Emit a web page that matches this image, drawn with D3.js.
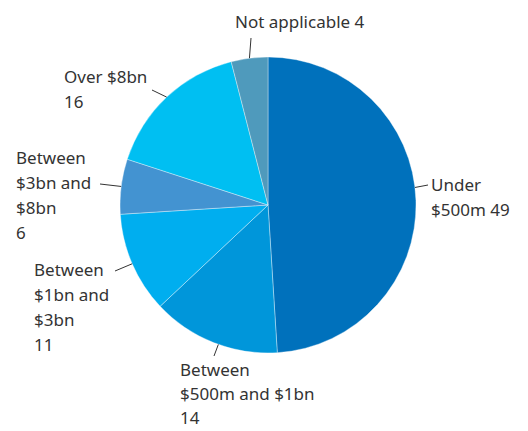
<!DOCTYPE html>
<html>
<head>
<meta charset="utf-8">
<script src="https://cdn.jsdelivr.net/npm/d3@7"></script>
<style>
  body { margin: 0; background: #fff; }
  svg text { font-family: "Noto Sans", sans-serif; font-size: 17px; fill: #333; }
</style>
</head>
<body>
<svg id="chart" width="528" height="431"></svg>
<script>
// slice data, clockwise from 12 o'clock
var categories = ["Under $500m", "Between $500m and $1bn", "Between $1bn and $3bn", "Between $3bn and $8bn", "Over $8bn", "Not applicable"];
var values = [49, 14, 11, 6, 16, 4];
var labelLines = [
  ["Under", "$500m 49"],
  ["Between", "$500m and $1bn", "14"],
  ["Between", "$1bn and", "$3bn", "11"],
  ["Between", "$3bn and", "$8bn", "6"],
  ["Over $8bn", "16"],
  ["Not applicable 4"]
];
var colors = ["#0071bc", "#0096da", "#00aeef", "#4393d1", "#00bff2", "#4f9abc"];

var cx = 268, cy = 205, r = 148;

// where the labels sit (text x, first baseline) and where the leader ends
var labelPos = [
  { x: 431, y: 191, ex: 428, ey: 185, da: -5, lh: 25 },
  { x: 180, y: 376, ex: 214, ey: 356, da: -2, lh: 24 },
  { x: 34,  y: 276, ex: 115, ey: 271, da: 0,  lh: 25 },
  { x: 16,  y: 164, ex: 100, ey: 184, da: 0,  lh: 25 },
  { x: 64,  y: 83,  ex: 152, ey: 90,  da: 0,  lh: 25 },
  { x: 235, y: 28,  ex: 251, ey: 38,  da: 0,  lh: 25 }
];

var svg = d3.select("#chart");
var g = svg.append("g").attr("transform", "translate(" + cx + "," + cy + ")");

var pie = d3.pie().sort(null).value(function(d) { return d; });
var arcs = pie(values);
var arc = d3.arc().innerRadius(0).outerRadius(r);

g.selectAll("path.slice")
  .data(arcs)
  .enter().append("path")
  .attr("class", "slice")
  .attr("d", arc)
  .attr("fill", function(d, i) { return colors[i]; })
  .attr("stroke", "rgba(255,255,255,0.45)")
  .attr("stroke-width", 0.8);

// leader lines start on the rim at the slice's mid angle
function rimPoint(d, i) {
  var a = (d.startAngle + d.endAngle) / 2 + labelPos[i].da * Math.PI / 180;
  return [Math.sin(a) * r, -Math.cos(a) * r];
}

g.selectAll("line.leader")
  .data(arcs)
  .enter().append("line")
  .attr("class", "leader")
  .attr("x1", function(d, i) { return rimPoint(d, i)[0]; })
  .attr("y1", function(d, i) { return rimPoint(d, i)[1]; })
  .attr("x2", function(d, i) { return labelPos[i].ex - cx; })
  .attr("y2", function(d, i) { return labelPos[i].ey - cy; })
  .attr("stroke", "#333")
  .attr("stroke-width", 1);

// labels
var labels = svg.selectAll("text.lab")
  .data(labelLines)
  .enter().append("text")
  .attr("class", "lab")
  .attr("x", function(d, i) { return labelPos[i].x; })
  .attr("y", function(d, i) { return labelPos[i].y; });

labels.each(function(lines, i) {
  var t = d3.select(this);
  lines.forEach(function(s, j) {
    t.append("tspan")
      .attr("x", labelPos[i].x)
      .attr("y", labelPos[i].y + j * labelPos[i].lh)
      .text(s);
  });
});
</script>
</body>
</html>
